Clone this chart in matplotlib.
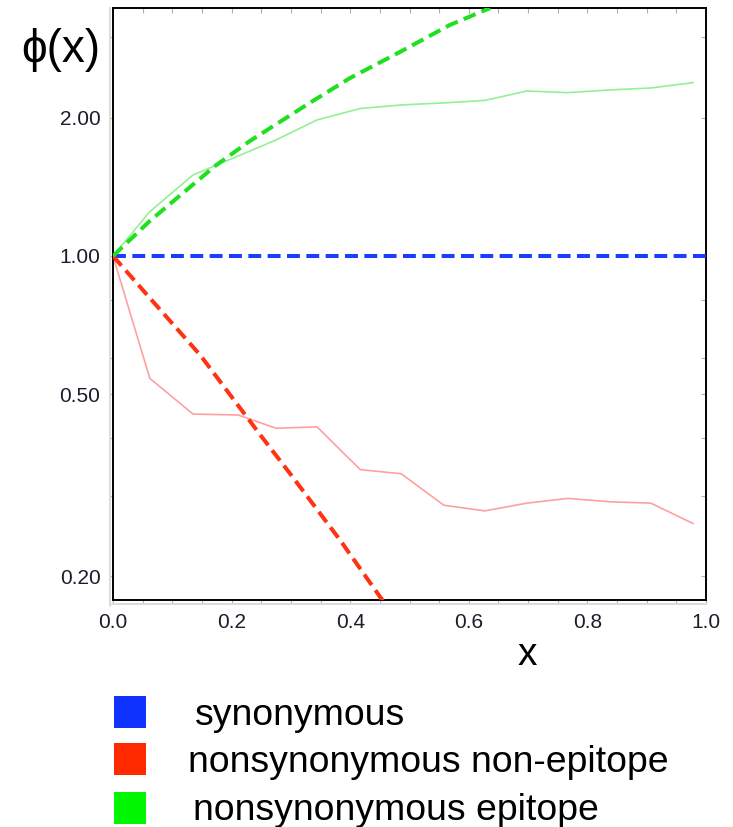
import matplotlib
matplotlib.use("Agg")
import matplotlib.pyplot as plt
from matplotlib.lines import Line2D
from matplotlib.patches import Rectangle
from matplotlib.ticker import FixedLocator, NullFormatter

plt.rcParams["font.family"] = ["Liberation Sans", "DejaVu Sans"]

W, H = 733, 827

# observed (binned) phi(x), thin lines
x_obs = [0.0, 0.062, 0.135, 0.211, 0.275, 0.344, 0.417, 0.486, 0.558,
         0.627, 0.698, 0.767, 0.838, 0.907, 0.978]
nonepi_obs = [1.0, 0.541, 0.452, 0.450, 0.421, 0.424, 0.342, 0.335, 0.286,
              0.278, 0.289, 0.296, 0.291, 0.289, 0.261]
epi_obs = [1.0, 1.249, 1.502, 1.652, 1.791, 1.980, 2.097, 2.135, 2.157,
           2.184, 2.290, 2.271, 2.302, 2.325, 2.388]

# fitted curves, dashed
syn_x = [0.0, 1.0]
syn_fit = [1.0, 1.0]
nonepi_x = [0.0, 0.062, 0.147, 0.251, 0.298, 0.383, 0.455]
nonepi_fit = [1.0, 0.810, 0.608, 0.403, 0.336, 0.240, 0.177]
epi_x = [0.0, 0.062, 0.172, 0.231, 0.329, 0.400, 0.484, 0.568, 0.636]
epi_fit = [1.0, 1.192, 1.571, 1.782, 2.146, 2.445, 2.786, 3.19, 3.474]

y_major = [0.2, 0.5, 1.0, 2.0]
y_minor = [0.3, 0.4, 0.6, 0.8, 3.0]
x_major = [0.0, 0.2, 0.4, 0.6, 0.8, 1.0]
x_minor = [i * 0.05 for i in range(21)]

legend_labels = ["synonymous", "nonsynonymous non-epitope", "nonsynonymous epitope"]
legend_colors = ["#1133FF", "#FF2A00", "#00F500"]

fig = plt.figure(figsize=(W / 100, H / 100), dpi=100)
ax = fig.add_axes([113 / W, 1 - 600 / H, (706 - 113) / W, (600 - 8) / H])

dash = (0, (3.2, 1.6))
ax.plot(x_obs, nonepi_obs, color="#FFA0A0", lw=1.2, zorder=2)
ax.plot(x_obs, epi_obs, color="#94F094", lw=1.2, zorder=2)
ax.plot(syn_x, syn_fit, color="#1E3CFF", lw=2.9, ls=dash, zorder=3)
ax.plot(nonepi_x, nonepi_fit, color="#FF3311", lw=2.9, ls=dash, zorder=3)
ax.plot(epi_x, epi_fit, color="#1EE01E", lw=2.9, ls=dash, zorder=3)

ax.set_yscale("log")
ax.set_xlim(0, 1.0)
ax.set_ylim(0.1777, 3.474)

ax.yaxis.set_major_locator(FixedLocator(y_major))
ax.yaxis.set_minor_locator(FixedLocator(y_minor))
ax.yaxis.set_minor_formatter(NullFormatter())
ax.set_yticklabels([f"{v:.2f}" for v in y_major])
ax.xaxis.set_major_locator(FixedLocator(x_major))
ax.xaxis.set_minor_locator(FixedLocator(x_minor))
ax.set_xticklabels([f"{v:.1f}" for v in x_major])

ax.tick_params(which="both", direction="out", length=3, width=0.8,
               color="#b0b0b0", labelsize=15, labelcolor="#1c1c2a", pad=6)

# inward ticks on the top and right frame edges
sec_x = ax.secondary_xaxis("top")
sec_x.xaxis.set_major_locator(FixedLocator(x_minor))
sec_x.tick_params(direction="in", length=3.5, width=0.8, color="#b0b0b0",
                  labeltop=False)
sec_y = ax.secondary_yaxis("right")
sec_y.yaxis.set_major_locator(FixedLocator(y_major + y_minor))
sec_y.yaxis.set_minor_locator(FixedLocator([]))
sec_y.tick_params(which="both", direction="in", length=3.5, width=0.8,
                  color="#b0b0b0", labelright=False)
for s in (sec_x, sec_y):
    for sp in s.spines.values():
        sp.set_visible(False)

for sp in ax.spines.values():
    sp.set_color("black")
    sp.set_linewidth(1.4)

# faint offset frame
fig.add_artist(Line2D([110 / W, 110 / W], [1 - 606 / H, 1 - 8 / H],
                      transform=fig.transFigure, color="#dcdcdc", lw=1.4))
fig.add_artist(Line2D([110 / W, 706 / W], [1 - 604 / H, 1 - 604 / H],
                      transform=fig.transFigure, color="#dcdcdc", lw=1.4))

fig.text(61 / W, 1 - 50 / H, "ϕ(x)", fontsize=33, ha="center", va="center")
fig.text(527 / W, 1 - 655 / H, "x", fontsize=28, ha="center", va="center")

box_y = [712, 759, 808]
text_x = [195, 188, 193]
text_base = [725, 772, 820]
for lab, col, by, tx, tb in zip(legend_labels, legend_colors, box_y, text_x, text_base):
    fig.add_artist(Rectangle((114 / W, 1 - (by + 16) / H), 32 / W, 32 / H,
                             transform=fig.transFigure, color=col, lw=0))
    fig.text(tx / W, 1 - tb / H, lab, fontsize=26.9, ha="left", va="baseline")

fig.savefig("out.png", dpi=100)
